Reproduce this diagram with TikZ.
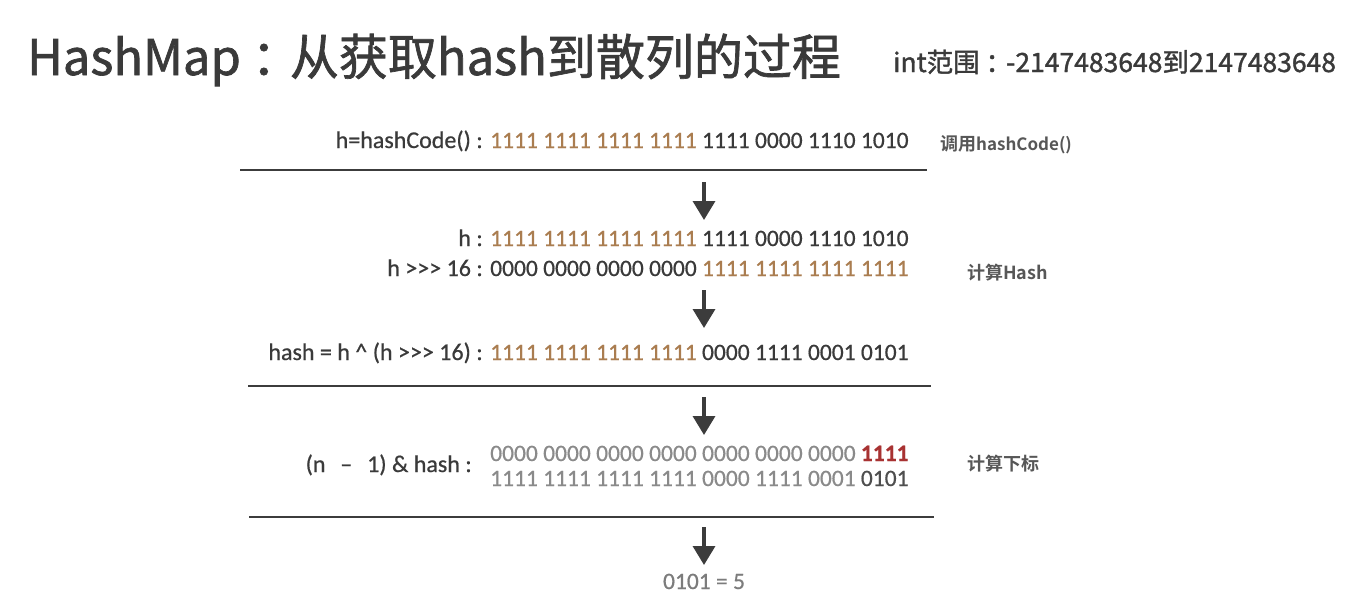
\documentclass[tikz,border=0pt]{standalone}
\usepackage{fontspec}
\setmainfont{Carlito}[FakeBold=0.6]
\newfontfamily\cjk{Noto Sans CJK SC}[FakeBold=1.4]
\newfontfamily\cjkb{Noto Sans CJK SC Bold}
\usetikzlibrary{arrows.meta}
\definecolor{txt}{HTML}{3A3A3A}
\definecolor{org}{HTML}{AA7D50}
\definecolor{lgray}{HTML}{8A8A8A}
\definecolor{red1}{HTML}{A83232}
\definecolor{rule}{HTML}{3C3C3C}
\newcommand{\shr}{>\kern0pt>\kern0pt>}
\newcommand{\ccolon}{\hspace{0.22em}：\hspace{-0.22em}}
\tikzset{
  lab/.style={anchor=base east,inner sep=0pt,text=txt,font=\fontsize{24}{26}\selectfont},
  bits/.style={anchor=base west,inner sep=0pt,text=txt,font=\fontsize{23.5}{26}\selectfont},
  side/.style={anchor=base west,inner sep=0pt,text=txt!85,font=\cjkb\fontsize{18}{20}\selectfont},
  sep/.style={draw=rule,line width=2.6pt},
  flow/.style={draw=rule,line width=3.5pt,-{Triangle[width=22pt,length=19pt]}}
}
\begin{document}
\begin{tikzpicture}[x=1pt,y=-1pt]
\useasboundingbox[fill=white] (0,0) rectangle (1372,602);
% title
\node[anchor=base west,inner sep=0pt,text=txt,font=\cjk\fontsize{49}{52}\selectfont] (title) at (27,75) {HashMap\ccolon 从获取hash到散列的过程};
\node[anchor=base west,inner sep=0pt,text=txt,font=\cjk\fontsize{26.5}{28}\selectfont] (range) at (893,72) {int范围\ccolon -2147483648到2147483648};
% row 1
\node[lab] (l1) at (483,148) {h=hashCode() :};
\node[bits] (b1) at (490,148) {\textcolor{org}{1111 1111 1111 1111} 1111 0000 1110 1010};
\node[side] (s1) at (940,150) {调用{\fontsize{17}{20}\selectfont hashCode()}};
\coordinate (r1a) at (240,170);
\coordinate (r1b) at (927,170);
\draw[sep] (r1a) -- (r1b);
\coordinate (a1s) at (704,182);
\coordinate (a1e) at (704,220);
\draw[flow] (a1s) -- (a1e);
% row 2
\node[lab] (l2) at (483,246) {h :};
\node[bits] (b2) at (490,246) {\textcolor{org}{1111 1111 1111 1111} 1111 0000 1110 1010};
\node[lab] (l3) at (483,276) {h \shr{} 16 :};
\node[bits] (b3) at (490,276) {0000 0000 0000 0000 \textcolor{org}{1111 1111 1111 1111}};
\node[side] (s2) at (967,279) {计算Hash};
\coordinate (a2s) at (704,290);
\coordinate (a2e) at (704,328);
\draw[flow] (a2s) -- (a2e);
% row 3
\node[lab] (l4) at (483,360) {hash = h \^{} (h \shr{} 16) :};
\node[bits] (b4) at (490,360) {\textcolor{org}{1111 1111 1111 1111} 0000 1111 0001 0101};
\coordinate (r2a) at (248,386);
\coordinate (r2b) at (931,386);
\draw[sep] (r2a) -- (r2b);
\coordinate (a3s) at (704,397);
\coordinate (a3e) at (704,435);
\draw[flow] (a3s) -- (a3e);
% row 4
\node[lab] (l5) at (472,472) {(n \,~--~\, 1) \& hash :};
\node[bits,text=lgray] (b5) at (490,461) {0000 0000 0000 0000 0000 0000 0000 \textcolor{red1}{\textbf{1111}}};
\node[bits,text=lgray] (b6) at (490,486) {1111 1111 1111 1111 0000 1111 0001 \textcolor{txt!90}{0101}};
\node[side] (s3) at (967,470) {计算下标};
\coordinate (r3a) at (249,517);
\coordinate (r3b) at (934,517);
\draw[sep] (r3a) -- (r3b);
\coordinate (a4s) at (704,527);
\coordinate (a4e) at (704,565);
\draw[flow] (a4s) -- (a4e);
\node[anchor=base,inner sep=0pt,text=lgray!90!black,font=\fontsize{23.5}{26}\selectfont] (res) at (704,589) {0101 = 5};
\end{tikzpicture}
\end{document}
